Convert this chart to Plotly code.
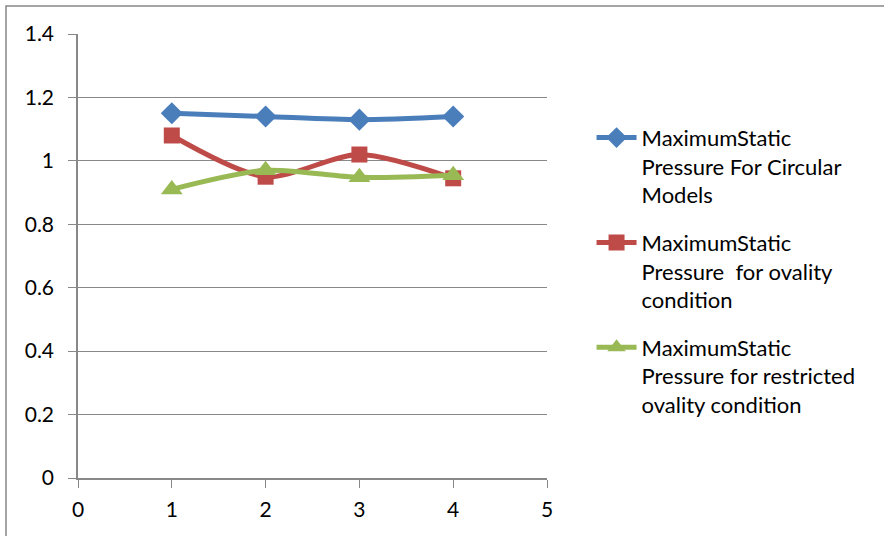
import plotly.graph_objects as go

x_vals = [1, 2, 3, 4]
circular = [1.15, 1.14, 1.13, 1.14]
ovality = [1.08, 0.95, 1.02, 0.945]
restricted = [0.91, 0.97, 0.948, 0.955]

names = [
    "MaximumStatic<br>Pressure For Circular<br>Models",
    "MaximumStatic<br>Pressure  for ovality<br>condition",
    "MaximumStatic<br>Pressure for restricted<br>ovality condition",
]
colors = ["#4A7EBB", "#BE4B48", "#98B954"]
symbols = ["diamond", "square", "triangle-up"]
sizes = [17, 16, 19]
series = [circular, ovality, restricted]

W, H = 884, 536
L, R, T, B = 78, 337, 34, 58
pw, ph = W - L - R, H - T - B

fig = go.Figure()
for i, (ys, nm, c, s, sz) in enumerate(zip(series, names, colors, symbols, sizes)):
    fig.add_trace(go.Scatter(
        x=x_vals, y=ys, name=nm, mode="lines+markers",
        line=dict(color=c, width=5, shape="spline", smoothing=0.8),
        marker=dict(symbol=s, size=sz, color=c),
        legendgroup=str(i),
    ))

font_family = "Lato, 'Liberation Sans', sans-serif"
fig.update_layout(
    width=W, height=H,
    margin=dict(l=L, r=R, t=T, b=B),
    paper_bgcolor="white", plot_bgcolor="white",
    font=dict(family=font_family, size=21, color="#000000"),
    showlegend=True,
    legend=dict(x=1.095, y=0.8135, xanchor="left", yanchor="top",
                valign="top", tracegroupgap=16,
                font=dict(size=22, family=font_family),
                itemwidth=40, bgcolor="rgba(0,0,0,0)"),
    xaxis=dict(range=[0, 5], tickvals=[0, 1, 2, 3, 4, 5],
               showgrid=False, zeroline=False,
               showline=True, linecolor="#888888", linewidth=1.5,
               ticks="outside", ticklen=8, tickcolor="#888888",
               ticklabelstandoff=4, fixedrange=True),
    yaxis=dict(range=[0, 1.4], tickvals=[0, 0.2, 0.4, 0.6, 0.8, 1, 1.2, 1.4],
               ticktext=["0", "0.2", "0.4", "0.6", "0.8", "1", "1.2", "1.4"],
               showgrid=True, gridcolor="#888888", gridwidth=1.2,
               zeroline=False,
               showline=True, linecolor="#888888", linewidth=1.5,
               ticks="outside", ticklen=8, tickcolor="#888888",
               ticklabelstandoff=10, fixedrange=True),
)

# outer chart border
fig.add_shape(type="rect", xref="paper", yref="paper",
              x0=(6 - L) / pw, x1=(W + 10 - L) / pw,
              y0=-(B + 10) / ph, y1=(ph + T - 6) / ph,
              line=dict(color="#888888", width=1.5), fillcolor="rgba(0,0,0,0)",
              layer="below")

fig.write_html("out.html", config={"displayModeBar": False},
               post_script="document.body.style.margin='0';")
